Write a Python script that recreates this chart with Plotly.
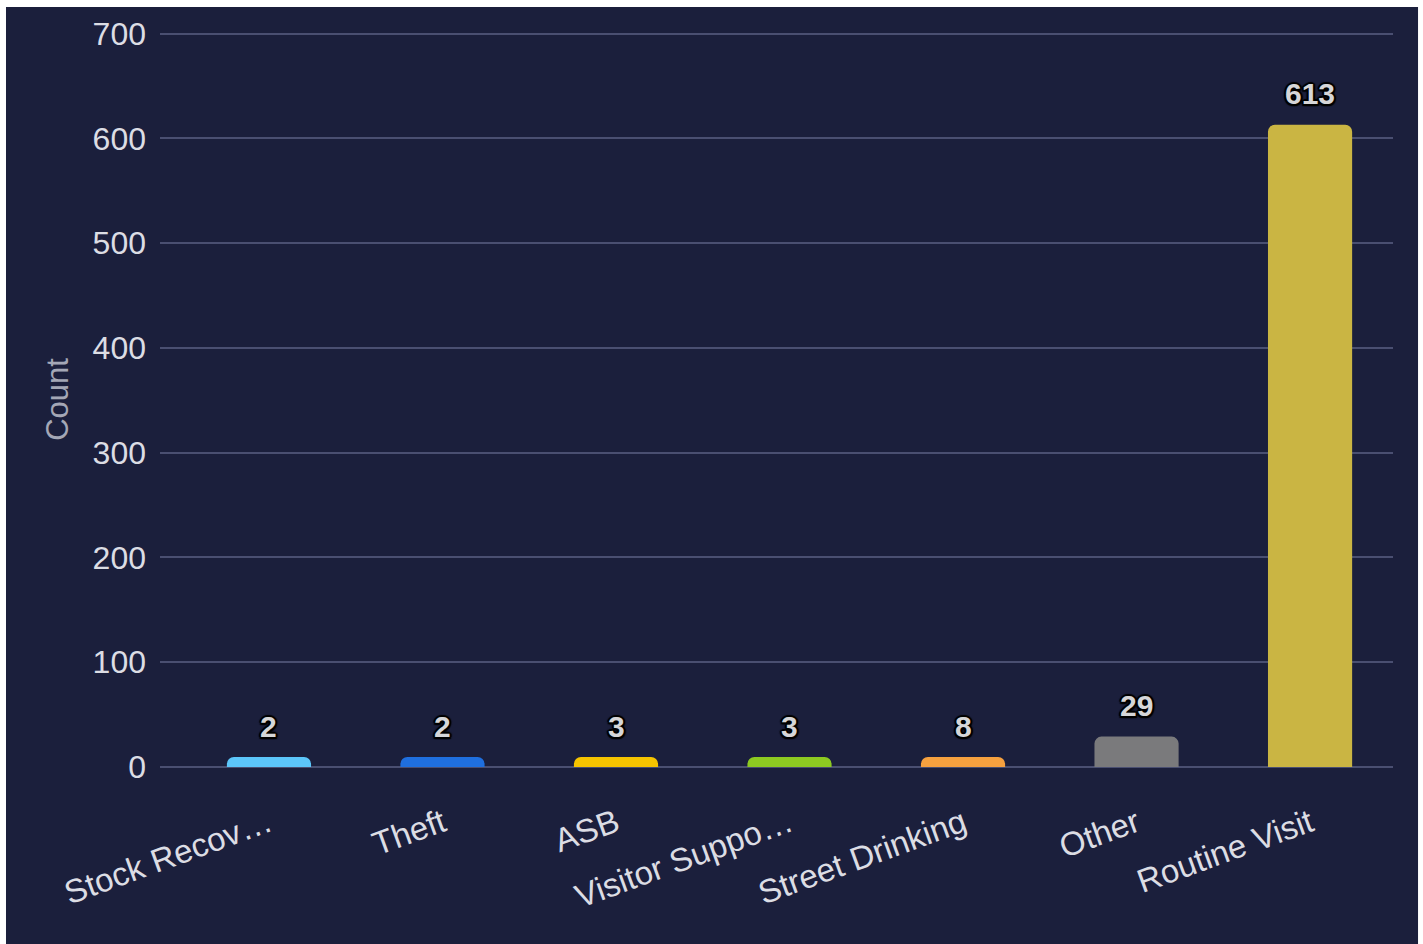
import plotly.graph_objects as go

# Incident categories and their counts
categories = ["Stock Recov…", "Theft", "ASB", "Visitor Suppo…",
              "Street Drinking", "Other", "Routine Visit"]
counts = [2, 2, 3, 3, 8, 29, 613]
bar_colors = ["#5cc6fa", "#1f6fdf", "#f6c400", "#8dca21",
              "#f6a13f", "#7a7a7c", "#cab543"]

# Smallest visible bar height (in data units) so tiny counts still show
MIN_VISIBLE = 9.5
shown = [max(v, MIN_VISIBLE) for v in counts]

BG = "#1b1f3c"
GRID = "#4a4f71"
FONT = "Liberation Sans, Arial, sans-serif"
OUTLINE = ("1.5px 1.5px 1px #000, -1.5px -1.5px 1px #000, "
           "1.5px -1.5px 1px #000, -1.5px 1.5px 1px #000, "
           "0 2px 1px #000, 0 -2px 1px #000, 2px 0 1px #000, -2px 0 1px #000")

fig = go.Figure()
fig.add_trace(go.Bar(
    x=categories,
    y=shown,
    width=0.485,
    marker=dict(color=bar_colors, line=dict(width=0), cornerradius=7),
    hoverinfo="skip",
))

# Value labels above each bar
for cat, v, h in zip(categories, counts, shown):
    fig.add_annotation(
        x=cat, y=h, text=str(v), showarrow=False,
        xanchor="center", yanchor="middle", yshift=31,
        font=dict(family=FONT, size=30, color="#d6d6d8", weight="bold",
                  shadow=OUTLINE),
    )

# Dark card behind the chart, leaving a thin white edge
fig.add_shape(type="rect", xref="paper", yref="paper",
              x0=-0.1249, x1=1.0203, y0=-0.26, y1=1.0341,
              fillcolor=BG, line=dict(width=0), layer="below")

fig.update_layout(
    width=1423, height=944,
    margin=dict(l=160, r=30, t=32, b=177),
    paper_bgcolor="white",
    plot_bgcolor="rgba(0,0,0,0)",
    showlegend=False,
    font=dict(family=FONT, color="#d8d9e0"),
    xaxis=dict(
        range=[-0.628, 6.478],
        showgrid=False, showline=False, zeroline=False,
        tickangle=-20, ticks="",
        tickfont=dict(size=33, color="#dcdde4"),
        ticklabelstandoff=30,
        fixedrange=True,
    ),
    yaxis=dict(
        range=[0, 701.5], tickvals=[0, 100, 200, 300, 400, 500, 600, 700],
        showgrid=True, gridcolor=GRID, gridwidth=2,
        zeroline=True, zerolinecolor=GRID, zerolinewidth=2,
        showline=False, ticks="",
        tickfont=dict(size=32, color="#dcdde4"),
        ticklabelstandoff=13,
        title=dict(text="Count", standoff=14,
                   font=dict(size=31, color="#a4a7b6")),
        fixedrange=True,
    ),
)

fig.write_html("out.html")
